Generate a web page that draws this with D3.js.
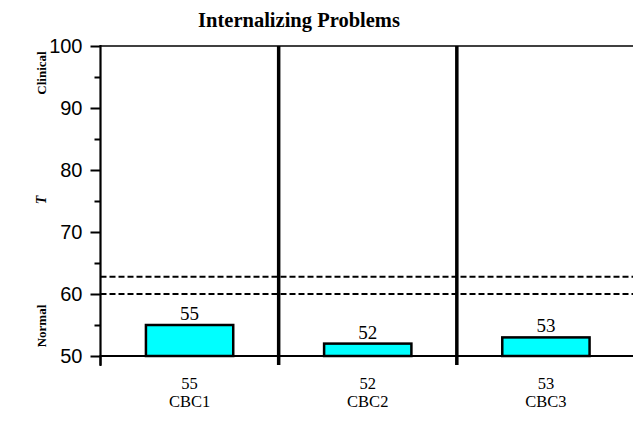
<!DOCTYPE html>
<html><head><meta charset="utf-8">
<script src="https://cdn.jsdelivr.net/npm/d3@7"></script>
<style>body{margin:0;background:#fff}svg{display:block}</style>
</head><body><div id="c"></div>
<script>
const categories = ["CBC1", "CBC2", "CBC3"];
const values = [55, 52, 53];
const yTicks = [50, 60, 70, 80, 90, 100];
const yMinorTicks = [55, 65, 75, 85, 95];
const cutoffs = [60, 62.8];
const title = "Internalizing Problems";

(function () {
const W = 633, H = 422;
const svg = d3.select("#c").append("svg").attr("width", W).attr("height", H);
const pLeft = 100.5, pRight = 635, pTop = 46, pBottom = 356;
const y = d3.scaleLinear().domain([50, 100]).range([pBottom, pTop]);
const x = d3.scaleBand().domain(categories).range([pLeft, pRight]).paddingInner(0).paddingOuter(0);
const bw = x.bandwidth() * 0.49;
const serif = "Liberation Serif, Times New Roman, serif";

svg.append("text").attr("x", 299).attr("y", 27).attr("text-anchor", "middle")
  .attr("font-family", serif).attr("font-weight", "bold")
  .attr("font-size", 20.5).text(title);

svg.append("line").attr("x1", pLeft).attr("x2", W).attr("y1", pTop).attr("y2", pTop)
  .attr("stroke", "#000").attr("stroke-width", 1.6);

categories.slice(1).forEach(c => {
  svg.append("line").attr("x1", x(c)).attr("x2", x(c)).attr("y1", pTop).attr("y2", pBottom + 9)
    .attr("stroke", "#000").attr("stroke-width", 3.5);
});

cutoffs.forEach(v => {
  svg.append("line").attr("x1", pLeft).attr("x2", W).attr("y1", y(v)).attr("y2", y(v))
    .attr("stroke", "#000").attr("stroke-width", 2).attr("stroke-dasharray", "6,3");
});

svg.selectAll("rect.bar").data(values).enter().append("rect")
  .attr("x", (d, i) => x(categories[i]) + (x.bandwidth() - bw) / 2)
  .attr("y", d => y(d))
  .attr("width", bw).attr("height", d => y(50) - y(d))
  .attr("fill", "#00FFFF").attr("stroke", "#000").attr("stroke-width", 2.5);

svg.selectAll("text.val").data(values).enter().append("text")
  .attr("x", (d, i) => x(categories[i]) + x.bandwidth() / 2)
  .attr("y", d => y(d) - 5)
  .attr("text-anchor", "middle")
  .attr("font-family", serif).attr("font-size", 19)
  .text(d => d);

svg.append("line").attr("x1", pLeft - 1).attr("x2", W).attr("y1", pBottom).attr("y2", pBottom)
  .attr("stroke", "#000").attr("stroke-width", 2);
categories.forEach(c => {
  svg.append("line").attr("x1", x(c)).attr("x2", x(c)).attr("y1", pBottom).attr("y2", pBottom + 9)
    .attr("stroke", "#000").attr("stroke-width", 2);
});

const catG = svg.selectAll("g.cat").data(categories).enter().append("g")
  .attr("transform", c => `translate(${x(c) + x.bandwidth() / 2},0)`);
catG.append("text").attr("y", 389).attr("text-anchor", "middle")
  .attr("font-family", serif).attr("font-size", 16.5)
  .text((c, i) => values[i]);
catG.append("text").attr("y", 407).attr("text-anchor", "middle")
  .attr("font-family", serif).attr("font-size", 16.5)
  .text(c => c);

const yAxis = d3.axisLeft(y).tickValues(yTicks).tickSize(10).tickPadding(8).tickFormat(d3.format("d"));
const ga = svg.append("g").attr("transform", `translate(${pLeft},0)`).call(yAxis);
ga.select(".domain").remove();
ga.selectAll(".tick line").attr("stroke-width", 2);
ga.selectAll(".tick text").attr("font-family", "Liberation Sans, Arial, sans-serif").attr("font-size", 20).attr("fill", "#000");
svg.append("line").attr("x1", pLeft).attr("x2", pLeft).attr("y1", pTop - 1).attr("y2", pBottom + 10)
  .attr("stroke", "#000").attr("stroke-width", 2.2);
svg.append("g").attr("transform", `translate(${pLeft},0)`)
  .call(d3.axisLeft(y).tickValues(yMinorTicks).tickSize(6).tickFormat(""))
  .call(g => g.select(".domain").remove())
  .selectAll(".tick line").attr("stroke-width", 2);

const side = [["Clinical", 73, "normal"], ["T", 200, "italic"], ["Normal", 326, "normal"]];
side.forEach(([t, cy, st]) => {
  svg.append("text").attr("transform", `translate(46,${cy}) rotate(-90)`)
    .attr("text-anchor", "middle")
    .attr("font-family", serif).attr("font-weight", "bold")
    .attr("font-style", st).attr("font-size", t === "T" ? 14 : 13).text(t);
});
})();
</script></body></html>
